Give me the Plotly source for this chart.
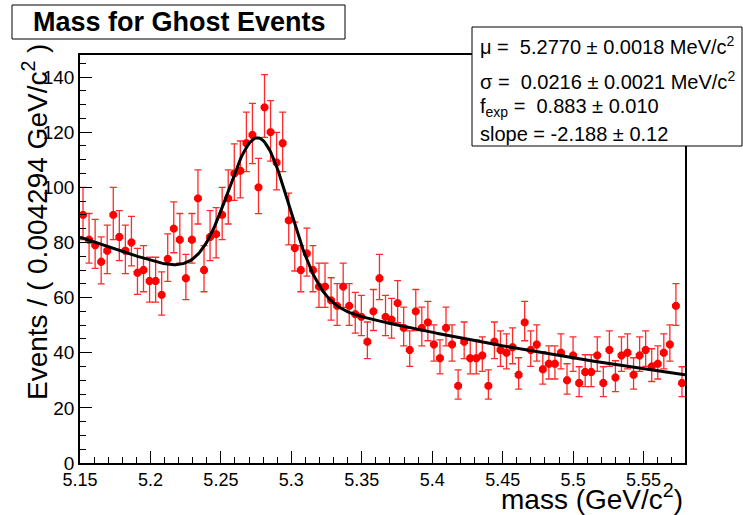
import numpy as np
import plotly.graph_objects as go

# histogram: 100 bins of 0.004294 GeV/c^2 starting at 5.15
X_MIN = 5.15
BIN_W = 0.004294
N_BINS = 100
counts = [
    90, 81, 79, 73, 77, 90, 82, 77, 80, 69, 70, 66, 66, 61, 74, 85, 81, 67, 81, 96,
    70, 82, 83, 90, 96, 105, 106, 116, 119, 100, 129, 120, 109, 116, 88, 78, 70, 76, 70, 64,
    64, 59, 57, 64, 57, 54, 53, 44, 55, 67, 53, 52, 58, 49, 41, 55, 49, 51, 43, 38,
    49, 43, 28, 44, 38, 38, 39, 28, 44, 41, 40, 42, 32, 51, 41, 43, 34, 36, 36, 40,
    30, 39, 29, 33, 33, 39, 29, 41, 31, 39, 40, 32, 39, 41, 35, 36, 40, 43, 57, 29,
]

# fit result shown in the box
MU = 5.2770
SIGMA = 0.0216
F_EXP = 0.883
SLOPE = -2.188

x_max = X_MIN + N_BINS * BIN_W
centers = X_MIN + (np.arange(N_BINS) + 0.5) * BIN_W
n = np.array(counts, dtype=float)
# poisson-ish asymmetric errors like RooFit
err_hi = np.sqrt(n + 0.25) + 0.5
err_lo = np.sqrt(n + 0.25) - 0.5

# model curve: gauss + exponential, normalised to the data
ntot = n.sum()
xf = np.linspace(X_MIN, x_max, 400)
gauss = np.exp(-0.5 * ((xf - MU) / SIGMA) ** 2) / (SIGMA * np.sqrt(2 * np.pi))
expo_norm = (np.exp(SLOPE * x_max) - np.exp(SLOPE * X_MIN)) / SLOPE
expo = np.exp(SLOPE * xf) / expo_norm
model = ntot * BIN_W * ((1 - F_EXP) * gauss + F_EXP * expo)

fig = go.Figure()
fig.add_trace(go.Scatter(
    x=centers, y=n, mode="markers",
    marker=dict(symbol="octagon", size=8.5, color="#ff0000"),
    error_y=dict(type="data", symmetric=False, array=err_hi, arrayminus=err_lo,
                 color="#ff2a2a", thickness=1.3, width=3.5),
    showlegend=False, hoverinfo="skip",
))
fig.add_trace(go.Scatter(
    x=xf, y=model, mode="lines",
    line=dict(color="black", width=3),
    showlegend=False, hoverinfo="skip",
))

FONT = "Liberation Sans, Arial, sans-serif"

fig.update_layout(
    width=743, height=515,
    margin=dict(l=80, r=58, t=55, b=52),
    paper_bgcolor="white", plot_bgcolor="white",
    font=dict(family=FONT, color="black"),
    xaxis=dict(
        range=[X_MIN, x_max], tick0=5.15, dtick=0.05,
        ticks="inside", ticklen=12, tickwidth=1, tickcolor="black",
        minor=dict(dtick=0.01, ticks="inside", ticklen=6, tickcolor="black"),
        showgrid=False, zeroline=False, automargin=False,
        showline=True, linecolor="black", linewidth=1.5, mirror=True,
        tickfont=dict(size=18),
    ),
    yaxis=dict(
        range=[0, 148], dtick=20,
        ticks="inside", ticklen=12, tickwidth=1, tickcolor="black",
        minor=dict(dtick=5, ticks="inside", ticklen=6, tickcolor="black"),
        showgrid=False, zeroline=False, automargin=False,
        showline=True, linecolor="black", linewidth=1.5, mirror=True,
        tickfont=dict(size=19),
    ),
    shapes=[
        # title box
        dict(type="rect", xref="paper", yref="paper",
             x0=(12 - 80) / 605, x1=(345 - 80) / 605,
             y0=(463 - 39) / 408, y1=(463 - 5) / 408,
             line=dict(color="black", width=1), fillcolor="white", layer="above"),
        # fit parameter box
        dict(type="rect", xref="paper", yref="paper",
             x0=(472 - 80) / 605, x1=(742 - 80) / 605,
             y0=(463 - 146) / 408, y1=(463 - 27) / 408,
             line=dict(color="black", width=1), fillcolor="white", layer="above"),
    ],
)

annotations = [
    dict(text="<b>Mass for Ghost Events</b>", x=(179 - 80) / 605, y=(463 - 22) / 408,
         font=dict(size=27)),
    dict(text="Events / ( 0.004294 GeV/c<sup>2</sup> )", textangle=-90,
         x=(35 - 80) / 605, y=(463 - 42) / 408, xanchor="center", yanchor="top",
         font=dict(size=28)),
    dict(text="mass (GeV/c<sup>2</sup>)", x=1.0, y=(463 - 497) / 408,
         xanchor="right", yanchor="middle", font=dict(size=28)),
]
box_lines = [
    ("\u03bc =  5.2770 \u00b1 0.0018 MeV/c<sup>2</sup>", 45),
    ("\u03c3 =  0.0216 \u00b1 0.0021 MeV/c<sup>2</sup>", 80),
    ("f<sub>exp</sub> =  0.883 \u00b1 0.010", 107),
    ("slope = -2.188 \u00b1 0.12", 134),
]
for txt, py in box_lines:
    annotations.append(dict(text=txt, x=(478 - 80) / 605, y=(463 - py) / 408,
                            xanchor="left", yanchor="middle", font=dict(size=20)))
for a in annotations:
    a.setdefault("xanchor", "center")
    a.setdefault("yanchor", "middle")
    a.update(xref="paper", yref="paper", showarrow=False)
fig.update_layout(annotations=annotations)

# the page body has an 8px default margin; drop it so the canvas sits at 0,0
fig.write_html("out.html", config={"displayModeBar": False},
               post_script="document.body.style.margin='0';")
